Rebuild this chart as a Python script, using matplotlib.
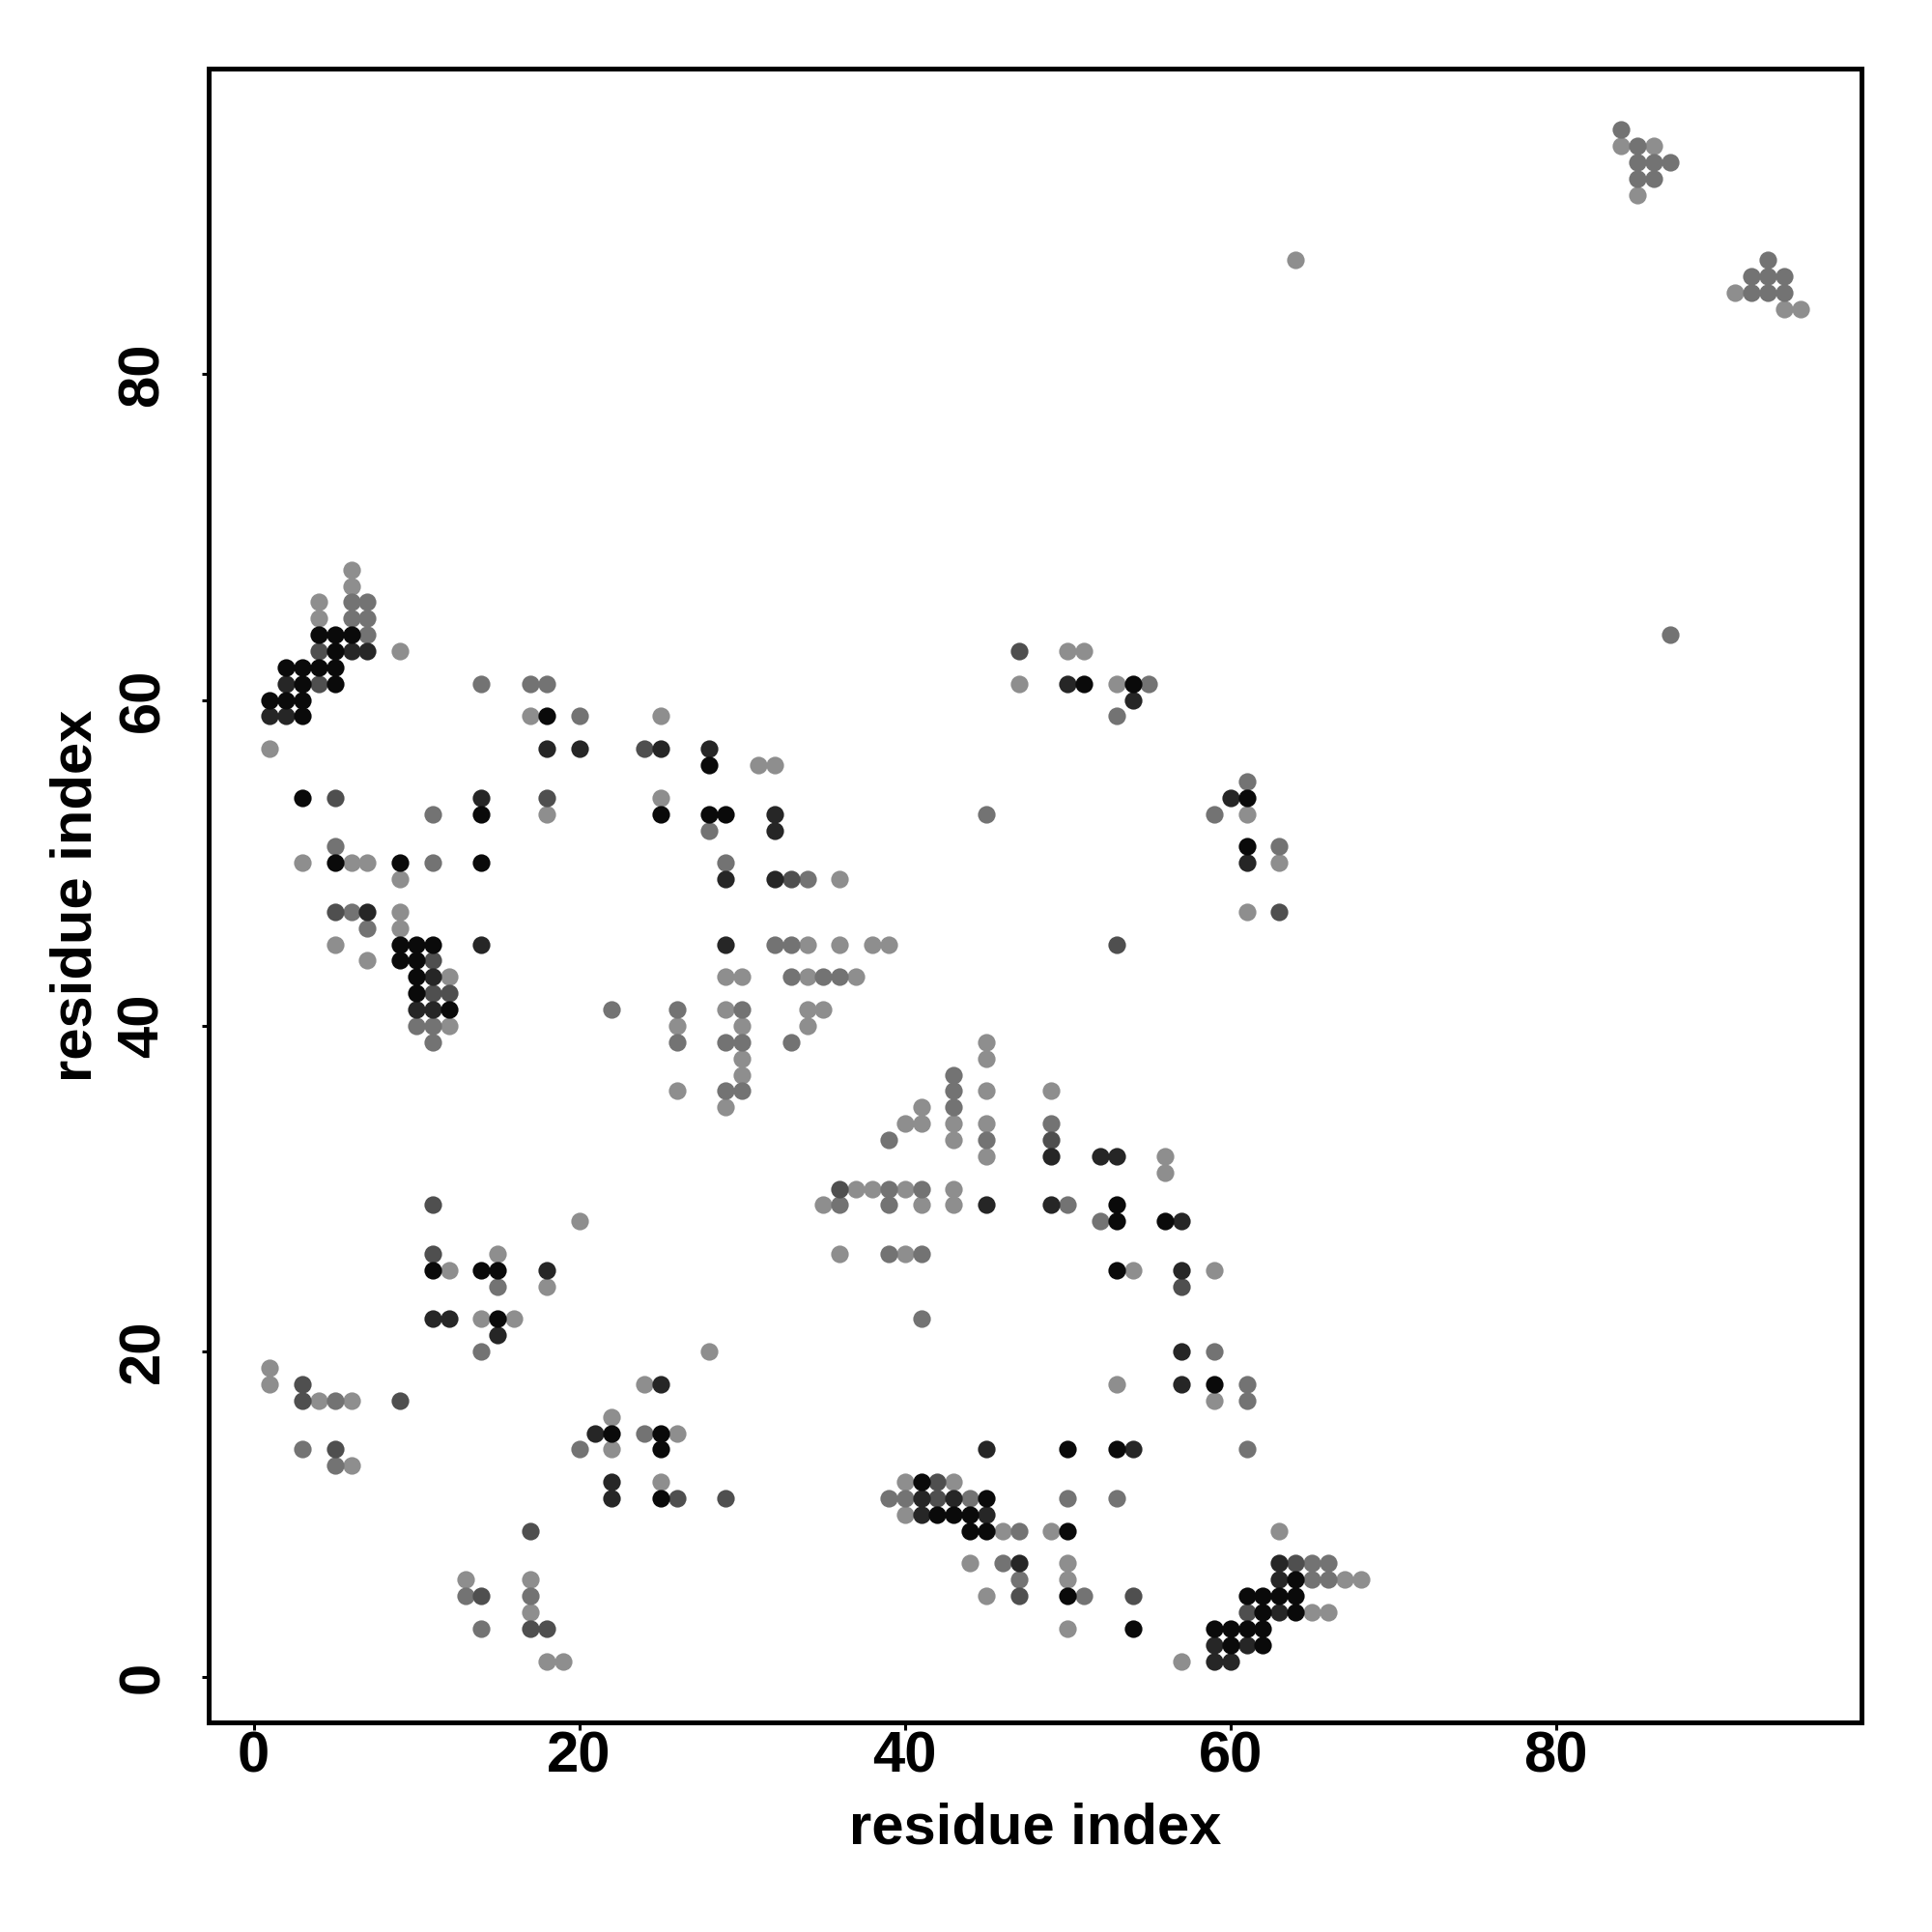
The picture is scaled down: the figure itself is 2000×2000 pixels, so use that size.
import matplotlib
matplotlib.use('Agg')
import matplotlib.pyplot as plt

plt.rcParams['font.family'] = ['Liberation Sans', 'DejaVu Sans']
plt.rcParams['font.weight'] = 'bold'

# контакты, сгруппированные по оттенку (от чёрного к светло-серому)
black_x = [11, 14, 15, 15, 22, 25, 25, 25,
           53, 53, 56, 53, 59, 50, 53, 41, 45, 42, 43, 44, 44, 45, 50, 50, 54, 59,
           64, 61, 62, 63, 64, 62, 64, 60, 61, 62, 60, 62,
           1, 2, 3, 3, 18, 28, 3, 14, 25, 28, 29, 5, 9, 14, 9, 10, 11, 9, 10, 10, 10, 12,
           61, 61,
           4, 5, 6, 5, 2, 3, 4, 5, 3, 5,
           51, 54]
black_y = [25, 25, 25, 22, 15, 15, 14, 11,
           29, 28, 28, 25, 18, 14, 14, 12, 11, 10, 10, 10, 9, 9, 9, 5, 3, 3,
           6, 5, 5, 5, 5, 4, 4, 3, 3, 3, 2, 2,
           60, 60, 60, 59, 59, 56, 54, 53, 53, 53, 53, 50, 50, 50, 45, 45, 45, 44, 44, 43, 42, 41,
           54, 51,
           64, 64, 64, 63, 62, 62, 62, 62, 61, 61,
           61, 61]

dark_x = [18, 11, 12, 15, 21, 25, 22, 22,
          45, 49, 57, 57, 57, 57, 45, 54, 41, 43, 41, 45, 47, 59, 59,
          63, 63, 63, 61, 60,
          2, 1, 2, 18, 20, 25, 28, 14, 29, 7, 14, 29, 11, 10, 11,
          32, 32, 32, 52, 53, 49,
          60, 61,
          6, 7,
          50, 54]
dark_y = [25, 22, 22, 21, 15, 18, 12, 11,
          29, 29, 28, 25, 20, 18, 14, 14, 11, 11, 10, 10, 7, 2, 1,
          7, 6, 4, 2, 1,
          61, 59, 59, 57, 57, 57, 57, 54, 49, 47, 45, 45, 43, 41, 41,
          53, 52, 49, 32, 32, 32,
          54, 50,
          63, 63,
          61, 60]

mid_x = [11, 11, 3, 3, 9, 5, 26, 29, 17, 14, 17, 18,
         57, 42, 42, 47, 54,
         64, 61,
         4, 24, 5, 18, 5, 11, 11, 12,
         33, 53, 36, 49,
         63,
         4,
         47]
mid_y = [29, 26, 18, 17, 17, 14, 11, 11, 9, 5, 3, 3,
         24, 12, 11, 5, 5,
         7, 4,
         61, 57, 54, 54, 47, 44, 42, 42,
         49, 45, 30, 33,
         47,
         63,
         63]

grey_x = [15, 14, 5, 24, 20, 3, 5, 13, 17, 14,
          52, 36, 39, 50, 39, 41, 41, 59, 39, 40, 44, 50, 53, 47, 46, 47, 51,
          61, 61, 61, 65, 66, 65, 66,
          14, 17, 18, 20, 11, 28, 5, 11, 29, 6, 7, 22, 26, 10, 11, 11, 26, 29,
          45, 34, 32, 33, 33, 35, 36, 30, 29, 30, 33, 43, 30, 43, 43, 49, 39, 45, 39, 41,
          61, 59, 63,
          6, 7, 6, 7, 7,
          55, 53,
          84, 85, 85, 86, 87, 85, 86, 93, 92, 93, 94, 92, 93, 94,
          87]
grey_y = [24, 20, 17, 15, 14, 14, 13, 5, 5, 3,
          28, 29, 29, 29, 26, 26, 22, 20, 11, 11, 11, 11, 11, 9, 7, 6, 5,
          18, 17, 14, 7, 7, 6, 6,
          61, 61, 61, 59, 53, 52, 51, 50, 50, 47, 46, 41, 41, 40, 40, 39, 39, 36,
          53, 49, 45, 45, 43, 43, 43, 41, 39, 39, 39, 37, 36, 36, 35, 34, 33, 33, 30, 30,
          55, 53, 51,
          66, 66, 65, 65, 64,
          61, 59,
          95, 94, 93, 93, 93, 92, 92, 87, 86, 86, 86, 85, 85, 85,
          64]

light_x = [20, 15, 12, 18, 14, 16, 28, 1, 1, 4, 6, 24, 22, 26, 22, 6, 25, 13, 17, 17, 18, 19,
           35, 41, 43, 54, 59, 36, 40, 53, 59, 40, 43, 40, 46, 49, 44, 50, 50, 45, 50, 57,
           63, 67, 68, 65, 66,
           1, 17, 25, 25, 18, 3, 6, 7, 9, 9, 9, 5, 7, 12, 29, 29, 12, 26, 26, 29,
           47, 53, 31, 32, 36, 34, 36, 38, 39, 30, 34, 37, 34, 35, 30, 34, 45, 30, 45, 30,
           45, 49, 41, 40, 41, 43, 45, 43, 45, 56, 56, 37, 38, 40, 43,
           61, 63, 61,
           6, 6, 4, 4, 9,
           50, 51,
           84, 86, 85, 91, 94, 95,
           64]
light_y = [28, 26, 25, 24, 22, 22, 20, 19, 18, 17, 17, 18, 16, 15, 14, 13, 12, 6, 6, 4, 1, 1,
           29, 29, 29, 25, 25, 26, 26, 18, 17, 12, 12, 10, 9, 9, 7, 7, 6, 5, 3, 1,
           9, 6, 6, 4, 4,
           57, 59, 59, 54, 53, 50, 50, 50, 49, 47, 46, 45, 44, 43, 43, 41, 40, 40, 36, 35,
           61, 61, 56, 56, 49, 45, 45, 45, 45, 43, 43, 43, 41, 41, 40, 40, 39, 38, 38, 37,
           36, 36, 35, 34, 34, 34, 34, 33, 32, 32, 31, 30, 30, 30, 30,
           53, 50, 47,
           68, 67, 66, 65, 63,
           63, 63,
           94, 94, 91, 85, 84, 84,
           87]

shades = [(light_x, light_y, '#8e8e8e'),
          (grey_x, grey_y, '#737373'),
          (mid_x, mid_y, '#4f4f4f'),
          (dark_x, dark_y, '#262626'),
          (black_x, black_y, '#0a0a0a')]

fig = plt.figure(figsize=(10, 10), dpi=200)
ax = fig.add_axes([0.108, 0.1085, 0.8555, 0.856])

for xs, ys, col in shades:
    ax.scatter(xs, ys, s=43, c=col, linewidths=0, zorder=2)

ax.set_xlim(-2.76, 98.76)
ax.set_ylim(-2.76, 98.76)
ax.set_xticks([0, 20, 40, 60, 80])
ax.set_yticks([0, 20, 40, 60, 80])

for sp in ax.spines.values():
    sp.set_linewidth(1.8)

ax.tick_params(axis='both', length=2.7, width=1.1, labelsize=21.5)
ax.tick_params(axis='x', pad=10.1)
ax.tick_params(axis='y', pad=21.6)
for lab in ax.get_xticklabels():
    lab.set_verticalalignment('center')
for lab in ax.get_yticklabels():
    lab.set_rotation(90)
    lab.set_verticalalignment('center')
    lab.set_horizontalalignment('center')

ax.set_xlabel('residue index', fontsize=21.5, fontweight='bold', va='center')
ax.set_ylabel('residue index', fontsize=21.5, fontweight='bold', va='center')
ax.xaxis.set_label_coords(0.5, -0.064)
ax.yaxis.set_label_coords(-0.08, 0.5)

plt.savefig('out.png', dpi=200)
